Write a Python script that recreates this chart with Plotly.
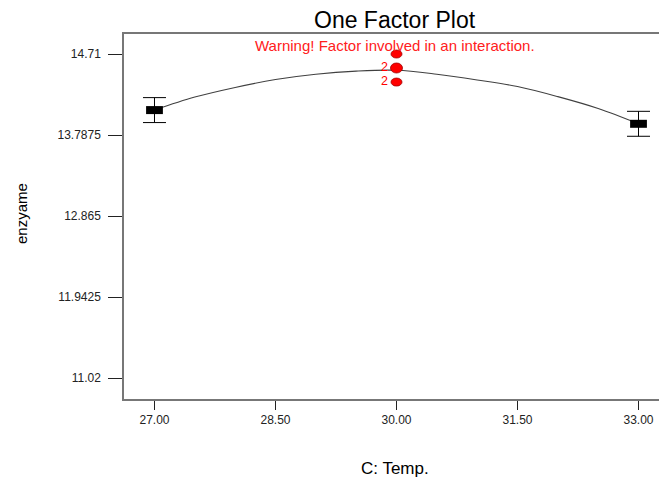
import plotly.graph_objects as go

# Factor levels and predicted means with their error half-widths
temp_levels = [27.0, 33.0]
mean_enzyme = [14.072, 13.916]
mean_err = [0.142, 0.142]

# Fitted response curve over C: Temp.
curve_temp = [27.0, 27.5, 28.0, 28.5, 29.0, 29.5, 30.0, 30.5, 31.0, 31.5, 32.0, 32.5, 33.0]
curve_enzyme = [14.072, 14.22, 14.33, 14.42, 14.48, 14.515, 14.525, 14.48, 14.415, 14.34, 14.225, 14.09, 13.916]

# Observed design points at the centre level
obs_temp = [30.0, 30.0, 30.0]
obs_enzyme = [14.71, 14.551, 14.391]
obs_count = ["", "2", "2"]

# Axis ticks
x_ticks = [27.0, 28.5, 30.0, 31.5, 33.0]
x_ticktext = ["27.00", "28.50", "30.00", "31.50", "33.00"]
y_ticks = [11.02, 11.9425, 12.865, 13.7875, 14.71]
y_ticktext = ["11.02", "11.9425", "12.865", "13.7875", "14.71"]

FONT = "Liberation Sans, Arial, sans-serif"
W, H = 659, 479
L, R, T, B = 124, 0, 34, 80
PW, PH = W - L - R, H - T - B


def px_x(p):
    return (p - L) / PW


def px_y(p):
    return (H - B - p) / PH


fig = go.Figure()

fig.add_trace(go.Scatter(
    x=curve_temp, y=curve_enzyme, mode="lines",
    line=dict(color="#404040", width=1.1, shape="spline"),
    hoverinfo="skip", showlegend=False,
))

fig.add_trace(go.Scatter(
    x=temp_levels, y=mean_enzyme, mode="markers",
    marker=dict(symbol="line-ew", size=12, color="black",
                line=dict(color="black", width=8)),
    error_y=dict(type="data", array=mean_err, visible=True,
                 color="black", thickness=1, width=11.5),
    showlegend=False,
))

# Red observation dots drawn as small ellipses anchored at the data values
for xv, yv, cnt in zip(obs_temp, obs_enzyme, obs_count):
    if yv == obs_enzyme[1]:
        hw, hh = 6, 5
    else:
        hw, hh = 5.5, 4
    fig.add_shape(
        type="circle", xref="x", yref="y",
        xsizemode="pixel", ysizemode="pixel",
        xanchor=xv, yanchor=yv,
        x0=-hw, x1=hw, y0=-hh, y1=hh,
        fillcolor="#ff0000", line=dict(color="#a00000", width=0.8),
    )

# Replicate counts written to the left of the dots
fig.add_trace(go.Scatter(
    x=obs_temp, y=obs_enzyme, mode="markers+text", text=obs_count,
    textposition="middle left",
    marker=dict(size=12, color="rgba(0,0,0,0)"),
    textfont=dict(family=FONT, size=12.5, color="#ff0000"),
    showlegend=False, hoverinfo="skip",
))

fig.update_layout(
    width=W, height=H,
    margin=dict(l=L, r=R, t=T, b=B, pad=0),
    paper_bgcolor="white", plot_bgcolor="white",
    font=dict(family=FONT, color="#222"),
    xaxis=dict(
        range=[26.622, 33.254],
        tickvals=x_ticks, ticktext=x_ticktext,
        ticks="outside", ticklen=9, tickcolor="#222", tickwidth=1,
        tickfont=dict(family=FONT, size=12, color="#222"),
        showline=True, linecolor="#777", linewidth=1.5, mirror=True,
        showgrid=False, zeroline=False,
    ),
    yaxis=dict(
        range=[10.784, 14.938],
        tickvals=y_ticks, ticktext=y_ticktext,
        ticks="outside", ticklen=14, tickcolor="#222", tickwidth=1,
        tickfont=dict(family=FONT, size=12, color="#222"),
        ticklabelstandoff=5,
        showline=True, linecolor="#777", linewidth=1.5, mirror=False,
        showgrid=False, zeroline=False,
    ),
    annotations=[
        dict(text="One Factor Plot", xref="paper", yref="paper",
             x=px_x(394.5), y=px_y(20), showarrow=False,
             xanchor="center", yanchor="middle",
             font=dict(family=FONT, size=23, color="black")),
        dict(text="Warning! Factor involved in an interaction.",
             xref="paper", yref="paper",
             x=px_x(395), y=px_y(46), showarrow=False,
             xanchor="center", yanchor="middle",
             font=dict(family=FONT, size=15, color="#ff2020")),
        dict(text="C: Temp.", xref="paper", yref="paper",
             x=px_x(395), y=px_y(469), showarrow=False,
             xanchor="center", yanchor="middle",
             font=dict(family=FONT, size=17, color="black")),
        dict(text="enzyame", xref="paper", yref="paper",
             x=px_x(21), y=px_y(214), showarrow=False, textangle=-90,
             xanchor="center", yanchor="middle",
             font=dict(family=FONT, size=15, color="black")),
    ],
)

fig.write_html("out.html")
